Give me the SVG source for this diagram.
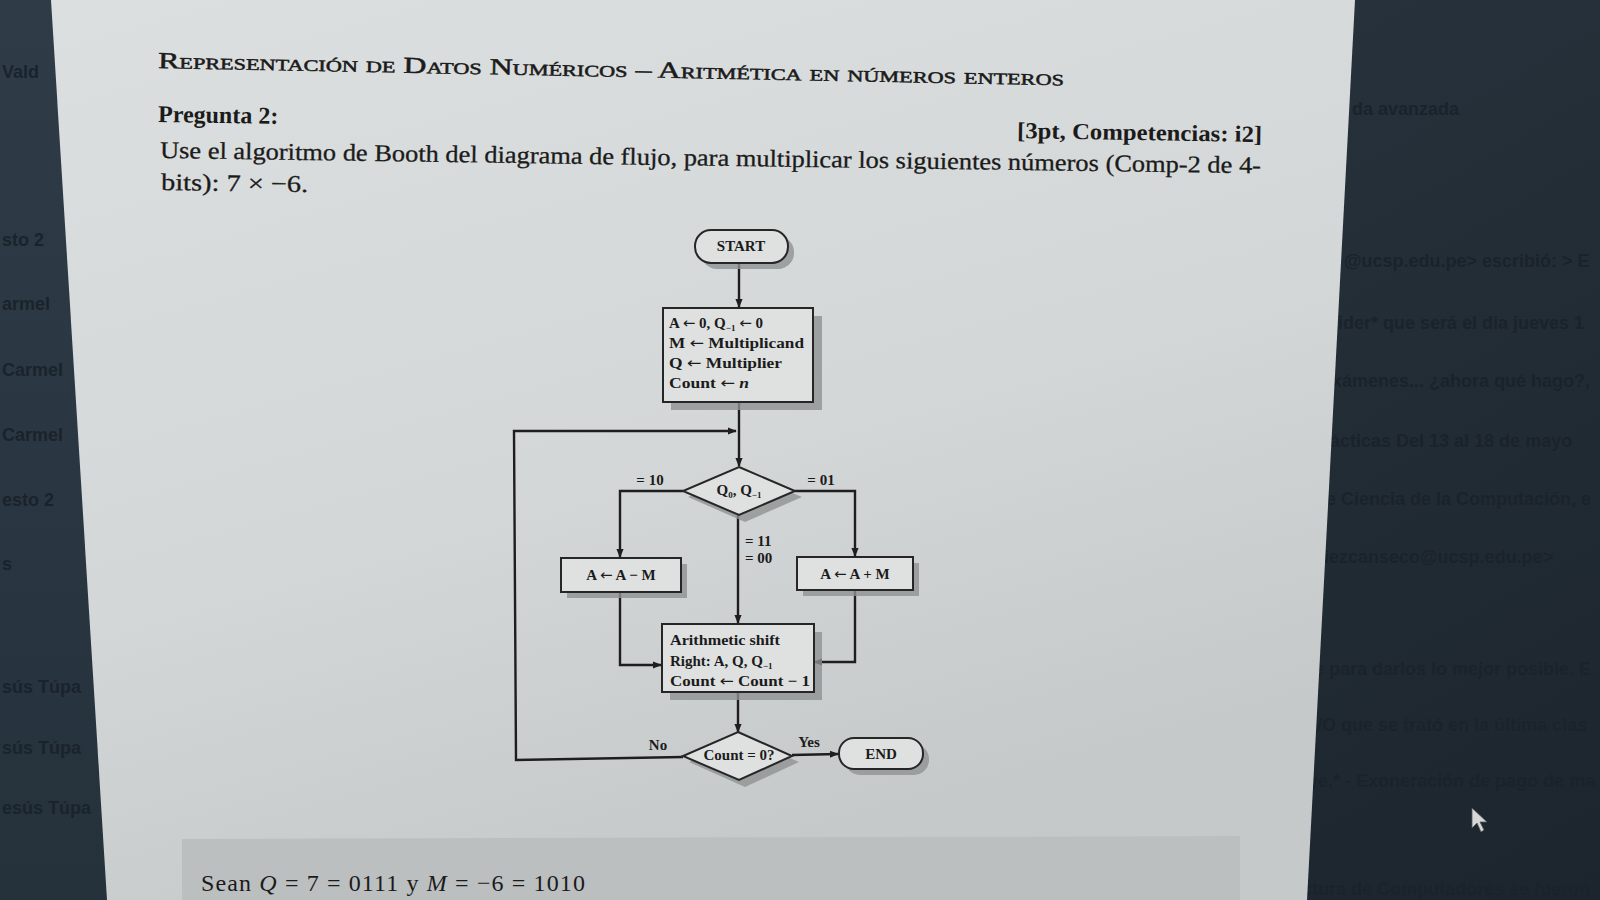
<svg xmlns="http://www.w3.org/2000/svg" width="1600" height="900" viewBox="0 0 1600 900">
<defs>
<linearGradient id="bgL" x1="0" y1="0" x2="0" y2="1">
<stop offset="0" stop-color="#2f3c48"/><stop offset="1" stop-color="#25313b"/>
</linearGradient>
<linearGradient id="bgR" x1="0" y1="0" x2="1" y2="1">
<stop offset="0" stop-color="#2e3a45"/><stop offset="1" stop-color="#1c252d"/>
</linearGradient>
<linearGradient id="paper" x1="0" y1="0" x2="0.4" y2="1">
<stop offset="0" stop-color="#dcdfdf"/><stop offset="0.6" stop-color="#d4d7d7"/><stop offset="1" stop-color="#c6c9ca"/>
</linearGradient>
<marker id="ah" viewBox="0 0 10 10" refX="9" refY="5" markerWidth="9" markerHeight="9" markerUnits="userSpaceOnUse" orient="auto">
<path d="M0,1 L10,5 L0,9 Z" fill="#1e1e1e"/>
</marker>
<style>
.side{font-family:"Liberation Sans",Arial,sans-serif;font-weight:bold;font-size:18px;fill:#1a232c;}
.doc{font-family:"Liberation Serif","Times New Roman",serif;fill:#1b1b1b;}
.fc{font-family:"Liberation Serif","Times New Roman",serif;font-weight:bold;font-size:15px;fill:#1b1b1b;}
.arr{font-family:"DejaVu Sans",sans-serif;font-weight:normal;}
.box{fill:#dfe1e1;stroke:#262626;stroke-width:2;}
.shadow{fill:#8e9294;opacity:0.8;}
.wire{fill:none;stroke:#1e1e1e;stroke-width:2.4;}
</style>
</defs>

<!-- background monitor -->
<rect x="0" y="0" width="1600" height="900" fill="url(#bgR)"/>
<rect x="0" y="0" width="120" height="900" fill="url(#bgL)"/>

<!-- left panel faint text -->
<g id="left-panel-text">
<text class="side" x="2" y="78">Vald</text>
<text class="side" x="2" y="246">sto 2</text>
<text class="side" x="2" y="310">armel</text>
<text class="side" x="2" y="376">Carmel</text>
<text class="side" x="2" y="441">Carmel</text>
<text class="side" x="2" y="506">esto 2</text>
<text class="side" x="2" y="570">s</text>
<text class="side" x="2" y="693">sús Túpa</text>
<text class="side" x="2" y="754">sús Túpa</text>
<text class="side" x="2" y="814">esús Túpa</text>
</g>

<!-- right panel faint text -->
<g id="right-panel-text">
<text class="side" x="1352" y="115">da avanzada</text>
<text class="side" x="1344" y="267">@ucsp.edu.pe&gt; escribió: &gt; E</text>
<text class="side" x="1338" y="329">ider* que será el día jueves 1</text>
<text class="side" x="1332" y="387">xámenes... ¿ahora qué hago?,</text>
<text class="side" x="1330" y="447">ácticas Del 13 al 18 de mayo</text>
<text class="side" x="1326" y="505">e Ciencia de la Computación, e</text>
<text class="side" x="1324" y="563">iezcanseco@ucsp.edu.pe&gt;</text>
<text class="side" x="1314" y="675">e para darlos lo mejor posible. E</text>
<text class="side" x="1312" y="731">I/O que se trató en la última clas</text>
<text class="side" x="1308" y="787">ye.* - Exoneración de pago de ma</text>
<text class="side" x="1302" y="895">ctura de Computadores se fueron</text>
</g>

<!-- mouse cursor -->
<path d="M1472,808 L1472,828 L1477,823 L1481,832 L1484,830 L1480,822 L1487,822 Z" fill="#d6d8d8" stroke="#555" stroke-width="0.8"/>

<!-- paper -->
<polygon id="page" points="51,0 1355,0 1307,900 107,900" fill="url(#paper)"/>
<polygon points="182,839 1240,836 1240,900 182,900" fill="#bcbfc0"/>

<!-- document text -->
<g id="header">
<text class="doc" x="158" y="68" font-size="23" font-variant="small-caps" stroke="#1b1b1b" stroke-width="0.5" textLength="906" lengthAdjust="spacingAndGlyphs" transform="rotate(1.1 158 68)">Representación de Datos Numéricos – Aritmética en números enteros</text>
<text class="doc" x="158" y="122" font-size="24" font-weight="bold" transform="rotate(0.9 158 122)">Pregunta 2:</text>
<text class="doc" x="1262" y="142" font-size="23" font-weight="bold" text-anchor="end" textLength="245" lengthAdjust="spacingAndGlyphs" transform="rotate(0.9 1262 142)">[3pt, Competencias: i2]</text>
<text class="doc" x="160" y="158" font-size="24" stroke="#1b1b1b" stroke-width="0.3" textLength="1101" lengthAdjust="spacingAndGlyphs" transform="rotate(0.8 160 158)">Use el algoritmo de Booth del diagrama de flujo, para multiplicar los siguientes números (Comp-2 de 4-</text>
<text class="doc" x="161" y="190" font-size="24" stroke="#1b1b1b" stroke-width="0.3" textLength="147" lengthAdjust="spacingAndGlyphs" transform="rotate(0.8 161 190)">bits): 7 × −6.</text>
</g>

<!-- connectors -->
<g id="connectors">
<line class="wire" x1="739" y1="263" x2="739" y2="307" marker-end="url(#ah)"/>
<line class="wire" x1="739" y1="402" x2="739" y2="466" marker-end="url(#ah)"/>
<polyline class="wire" points="683,757 516,760 514,431 736,431" marker-end="url(#ah)"/>
<polyline class="wire" points="683,491 620,491 620,557" marker-end="url(#ah)"/>
<polyline class="wire" points="795,491 855,491 855,556" marker-end="url(#ah)"/>
<line class="wire" x1="738" y1="515" x2="738" y2="623" marker-end="url(#ah)"/>
<polyline class="wire" points="620,592 620,665 661,665" marker-end="url(#ah)"/>
<polyline class="wire" points="855,590 855,662 814,662" marker-end="url(#ah)"/>
<line class="wire" x1="738" y1="692" x2="738" y2="732" marker-end="url(#ah)"/>
<line class="wire" x1="792" y1="755" x2="838" y2="754" marker-end="url(#ah)"/>
<text class="fc" x="650" y="485" text-anchor="middle" font-size="14">= 10</text>
<text class="fc" x="821" y="485" text-anchor="middle" font-size="14">= 01</text>
<text class="fc" x="745" y="546" font-size="14">= 11</text>
<text class="fc" x="745" y="563" font-size="14">= 00</text>
<text class="fc" x="658" y="750" text-anchor="middle" font-size="14">No</text>
<text class="fc" x="809" y="747" text-anchor="middle" font-size="13">Yes</text>
</g>

<g id="start">
<rect class="shadow" x="701" y="236" width="93" height="33" rx="16"/>
<rect class="box" x="695" y="230" width="93" height="33" rx="16"/>
<text class="fc" x="741" y="251" text-anchor="middle">START</text>
</g>

<g id="init">
<rect class="shadow" x="671" y="316" width="151" height="94"/>
<rect class="box" x="663" y="308" width="150" height="94"/>
<text class="fc" x="669" y="328">A <tspan class="arr">←</tspan> 0, Q<tspan font-size="9" dy="3">−1</tspan><tspan dy="-3"> </tspan><tspan class="arr">←</tspan> 0</text>
<text class="fc" x="669" y="348" textLength="135" lengthAdjust="spacingAndGlyphs">M <tspan class="arr">←</tspan> Multiplicand</text>
<text class="fc" x="669" y="368" textLength="113" lengthAdjust="spacingAndGlyphs">Q <tspan class="arr">←</tspan> Multiplier</text>
<text class="fc" x="669" y="388" textLength="80" lengthAdjust="spacingAndGlyphs">Count <tspan class="arr">←</tspan> <tspan font-style="italic">n</tspan></text>
</g>

<g id="decision-q">
<polygon class="shadow" points="745,473 802,497 745,522 688,497"/>
<polygon class="box" points="739,467 795,491 739,515 683,491"/>
<text class="fc" x="739" y="495" text-anchor="middle" font-size="14">Q<tspan font-size="9" dy="3">0</tspan><tspan dy="-3">, Q</tspan><tspan font-size="9" dy="3">−1</tspan></text>
</g>

<g id="sub">
<rect class="shadow" x="567" y="564" width="120" height="34"/>
<rect class="box" x="561" y="558" width="120" height="34"/>
<text class="fc" x="621" y="580" text-anchor="middle">A <tspan class="arr">←</tspan> A − M</text>
</g>

<g id="add">
<rect class="shadow" x="803" y="563" width="116" height="33"/>
<rect class="box" x="797" y="557" width="116" height="33"/>
<text class="fc" x="855" y="579" text-anchor="middle">A <tspan class="arr">←</tspan> A + M</text>
</g>

<g id="shift">
<rect class="shadow" x="670" y="632" width="152" height="68"/>
<rect class="box" x="662" y="624" width="152" height="68"/>
<text class="fc" x="670" y="645" textLength="110" lengthAdjust="spacingAndGlyphs">Arithmetic shift</text>
<text class="fc" x="670" y="666">Right: A, Q, Q<tspan font-size="9" dy="3">−1</tspan></text>
<text class="fc" x="670" y="686" textLength="140" lengthAdjust="spacingAndGlyphs">Count <tspan class="arr">←</tspan> Count − 1</text>
</g>

<g id="decision-count">
<polygon class="shadow" points="745,739 799,762 745,787 689,762"/>
<polygon class="box" points="738,732 792,756 739,780 683,756"/>
<text class="fc" x="739" y="760" text-anchor="middle" font-size="13.5">Count = 0?</text>
</g>

<g id="end">
<rect class="shadow" x="845" y="744" width="84" height="31" rx="15"/>
<rect class="box" x="839" y="738" width="84" height="31" rx="15"/>
<text class="fc" x="881" y="759" text-anchor="middle">END</text>
</g>

<g id="footer">
<text class="doc" x="201" y="891" font-size="24" textLength="384" lengthAdjust="spacing">Sean <tspan font-style="italic">Q</tspan> = 7 = 0111 y <tspan font-style="italic">M</tspan> = −6 = 1010</text>
</g>
</svg>
